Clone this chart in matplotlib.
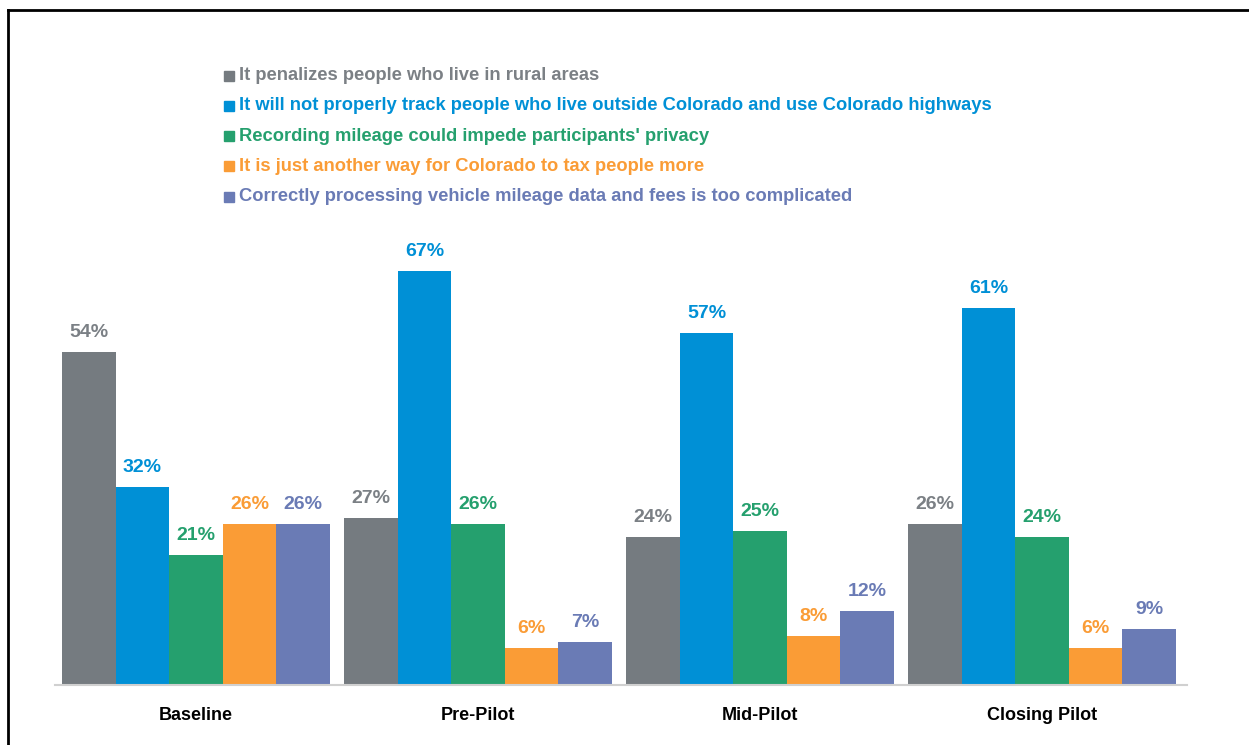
import matplotlib.pyplot as plt
import numpy as np
from matplotlib.lines import Line2D
from matplotlib.patches import Rectangle

# --- data ---
stages = ["Baseline", "Pre-Pilot", "Mid-Pilot", "Closing Pilot"]
concerns = [
    "It penalizes people who live in rural areas",
    "It will not properly track people who live outside Colorado and use Colorado highways",
    "Recording mileage could impede participants' privacy",
    "It is just another way for Colorado to tax people more",
    "Correctly processing vehicle mileage data and fees is too complicated",
]
rural = [54, 27, 24, 26]
out_of_state = [32, 67, 57, 61]
privacy = [21, 26, 25, 24]
tax_more = [26, 6, 8, 6]
too_complicated = [26, 7, 12, 9]
values = [rural, out_of_state, privacy, tax_more, too_complicated]

colors = ["#757b80", "#0090d6", "#25a06e", "#fa9c36", "#6a7bb5"]
label_colors = ["#7b8085", "#0090d6", "#25a06e", "#fa9c36", "#6a7bb5"]

W, H = 1249, 745
FONT = ["Liberation Sans Narrow", "Liberation Sans", "DejaVu Sans"]

fig = plt.figure(figsize=(W / 100, H / 100), dpi=100)
ax = fig.add_axes([55 / W, (H - 685) / H, 1132 / W, 463 / H])

x = np.arange(len(stages))
bw = 0.19
for i, (vals, c, lc) in enumerate(zip(values, colors, label_colors)):
    pos = x + (i - 2) * bw
    ax.bar(pos, vals, width=bw, color=c, edgecolor="none", zorder=2)
    for px, v in zip(pos, vals):
        ax.annotate(f"{v}%", (px, v), xytext=(0, 8), textcoords="offset points",
                    ha="center", va="bottom", fontsize=14, fontweight="bold",
                    color=lc, family=FONT)

ax.set_xlim(-0.5, 3.514)
ax.set_ylim(0, 75)
ax.set_yticks([])
ax.set_xticks(x)
ax.set_xticklabels(stages, fontsize=13, fontweight="bold", family=FONT)
ax.tick_params(axis="x", length=0, pad=16)
for s in ["top", "right", "left"]:
    ax.spines[s].set_visible(False)
ax.spines["bottom"].set_color("#d0d0d0")
ax.spines["bottom"].set_linewidth(1.5)

# legend, drawn by hand to match the stacked colored text
for i, (name, c, lc) in enumerate(zip(concerns, colors, label_colors)):
    yc = 75.5 + 30.3 * i
    fig.add_artist(Rectangle((224 / W, 1 - (yc + 5) / H), 10 / W, 10 / H,
                             transform=fig.transFigure, color=c))
    fig.text(239 / W, 1 - yc / H, name, ha="left", va="center", fontsize=13.2,
             fontweight="bold", color=lc, family=FONT)

# outer frame
fig.add_artist(Line2D([8 / W, 8 / W], [0, 1 - 10 / H], color="black", lw=2,
                      transform=fig.transFigure))
fig.add_artist(Line2D([8 / W, 1], [1 - 10 / H, 1 - 10 / H], color="black", lw=2,
                      transform=fig.transFigure))

fig.savefig("out.png", dpi=100)
